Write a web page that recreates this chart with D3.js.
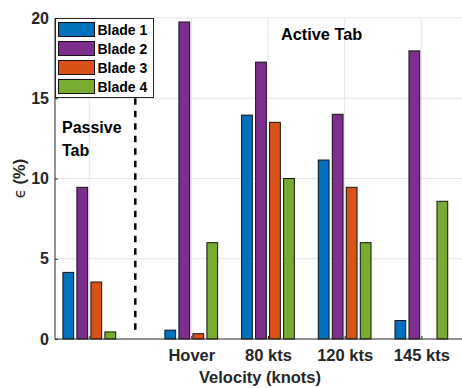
<!DOCTYPE html>
<html>
<head>
<meta charset="utf-8">
<script src="https://cdn.jsdelivr.net/npm/d3@7"></script>
<style>
  html, body { margin: 0; padding: 0; background: #fff; }
  svg { display: block; font-family: "Liberation Sans", Arial, Helvetica, sans-serif; }
</style>
</head>
<body>
<svg id="chart" width="462" height="388"></svg>
<script>
// Conditions along the x axis (the first group has no tick label)
const categories = ["", "Hover", "80 kts", "120 kts", "145 kts"];
// x location of each group on the numeric axis
const groupPos = [0, 1.33, 2.33, 3.33, 4.33];
const blades = ["Blade 1", "Blade 2", "Blade 3", "Blade 4"];
// ε (%) per blade, one value per group
const blade1 = [4.15, 0.55, 13.95, 11.15, 1.15];
const blade2 = [9.45, 19.75, 17.25, 14.0, 17.95];
const blade3 = [3.55, 0.33, 13.5, 9.45, 0.0];
const blade4 = [0.44, 6.0, 10.0, 6.0, 8.58];
const yTicks = [0, 5, 10, 15, 20];
const dividerPos = 0.6;

const series = [blade1, blade2, blade3, blade4];
const colors = ["#0072BD", "#7E2F8E", "#D95319", "#77AC30"];

const svg = d3.select("#chart");
const plotL = 55, plotR = 462, plotT = 18, plotB = 339;

const x = d3.scaleLinear().domain([-0.447, 4.86]).range([plotL, plotR]);
const y = d3.scaleLinear().domain([0, 20]).range([plotB, plotT]);

const unit = x(1) - x(0);
const barStep = 0.1825 * unit;
const barW = 0.14 * unit;

// grid
const grid = svg.append("g").attr("stroke", "#e5e5e5").attr("stroke-width", 1);
grid.selectAll(".gy").data(yTicks.slice(1)).join("line")
  .attr("x1", plotL).attr("x2", plotR)
  .attr("y1", d => y(d)).attr("y2", d => y(d));
grid.selectAll(".gx").data(groupPos).join("line")
  .attr("x1", d => x(d)).attr("x2", d => x(d))
  .attr("y1", plotT).attr("y2", plotB);

// bars
const rows = [];
series.forEach((vals, s) => vals.forEach((v, g) => rows.push({ s, g, v })));
svg.append("g").selectAll("rect").data(rows).join("rect")
  .attr("x", d => x(groupPos[d.g]) + (d.s - 1.5) * barStep - barW / 2)
  .attr("width", barW)
  .attr("y", d => y(d.v))
  .attr("height", d => y(0) - y(d.v))
  .attr("fill", d => colors[d.s])
  .attr("stroke", "#111")
  .attr("stroke-width", 1);

// divider between passive and active tab
svg.append("line")
  .attr("x1", x(dividerPos)).attr("x2", x(dividerPos))
  .attr("y1", y(15.0)).attr("y2", y(0.4))
  .attr("stroke", "#000").attr("stroke-width", 2.5)
  .attr("stroke-dasharray", "6.5,6");

// axes
const yAxis = d3.axisLeft(y).tickValues(yTicks).tickSize(-3).tickPadding(6).tickFormat(d3.format("d"));
const gy = svg.append("g").attr("transform", `translate(${plotL},0)`).call(yAxis);
gy.select(".domain").attr("stroke", "#262626").attr("d", `M0,${plotT}V${plotB}`);
gy.selectAll(".tick line").attr("stroke", "#262626");
gy.selectAll("text").attr("fill", "#262626").attr("font-size", 16).attr("font-weight", "bold")
  .attr("font-family", "Liberation Sans, Arial, sans-serif");

const xAxis = d3.axisBottom(x).tickValues(groupPos).tickSize(-3).tickPadding(10)
  .tickFormat((d, i) => categories[i]);
const gx = svg.append("g").attr("transform", `translate(0,${plotB})`).call(xAxis);
gx.select(".domain").attr("stroke", "#262626").attr("d", `M${plotL},0H${plotR}`);
gx.selectAll(".tick line").attr("stroke", "#262626");
gx.selectAll("text").attr("fill", "#262626").attr("font-size", 16.5).attr("font-weight", "bold")
  .attr("font-family", "Liberation Sans, Arial, sans-serif");

// axis titles
svg.append("text")
  .attr("x", 260).attr("y", 383)
  .attr("text-anchor", "middle").attr("font-size", 16.5).attr("font-weight", "bold")
  .attr("fill", "#262626").text("Velocity (knots)");
svg.append("text")
  .attr("transform", `translate(25,${(plotT + plotB) / 2}) rotate(-90)`)
  .attr("text-anchor", "middle").attr("font-size", 16.5)
  .attr("fill", "#262626")
  .html('<tspan font-family="DejaVu Sans" font-size="15">ϵ</tspan><tspan font-weight="bold"> (%)</tspan>');

// region annotations
svg.append("text").attr("x", 62).attr("y", 133).attr("font-size", 16).attr("font-weight", "bold")
  .attr("fill", "#000").text("Passive");
svg.append("text").attr("x", 62).attr("y", 156).attr("font-size", 16).attr("font-weight", "bold")
  .attr("fill", "#000").text("Tab");
svg.append("text").attr("x", 281).attr("y", 40).attr("font-size", 16.3).attr("font-weight", "bold")
  .attr("fill", "#000").text("Active Tab");

// legend
const lg = svg.append("g").attr("transform", "translate(55.5,18.5)");
lg.append("rect").attr("width", 98).attr("height", 79)
  .attr("fill", "#fff").attr("stroke", "#262626").attr("stroke-width", 1);
const items = lg.selectAll(".item").data(blades).join("g")
  .attr("transform", (d, i) => `translate(0,${4 + i * 19})`);
items.append("rect").attr("x", 3).attr("y", 0).attr("width", 36).attr("height", 14)
  .attr("fill", (d, i) => colors[i]).attr("stroke", "#111").attr("stroke-width", 1);
items.append("text").attr("x", 42).attr("y", 12.5).attr("font-size", 14).attr("font-weight", "bold")
  .attr("fill", "#000").text(d => d);
</script>
</body>
</html>
